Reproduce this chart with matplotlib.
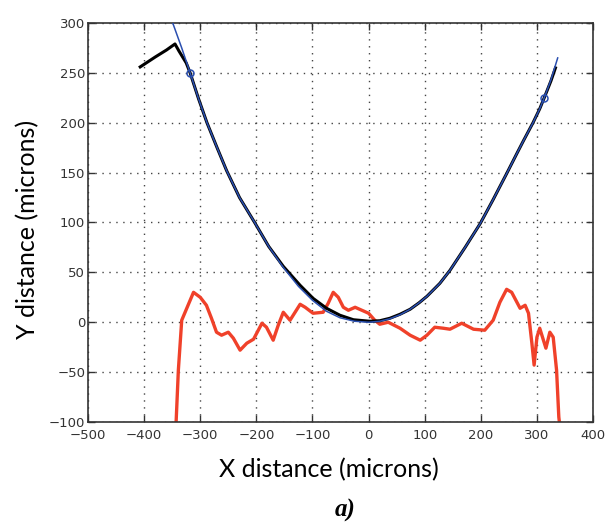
import matplotlib.pyplot as plt
import numpy as np

# Red deviation profile (microns)
red_x = [-343, -339, -333, -327, -312, -300, -289, -280, -271, -262, -250, -241, -229, -217, -205,
         -190, -182, -170, -161, -152, -140, -122, -113, -99, -81, -72, -63, -54, -45, -36, -24,
         -12, 0, 11, 20, 35, 56, 74, 92, 104, 118, 133, 145, 166, 187, 207, 222, 234, 246, 255,
         270, 279, 285, 291, 295, 300, 305, 316, 323, 329, 335, 339, 340]
red_y = [-100, -48, 2, 10, 30, 25, 17, 4, -10, -13, -10, -16, -28, -21, -17,
         -1, -5, -18, -3, 10, 2, 18, 15, 9, 10, 19, 30, 25, 15, 12, 15,
         12, 9, 2, -2, 0, -6, -13, -18, -13, -5, -6, -7, -1, -7, -8, 2, 20, 33, 30,
         14, 17, 9, -21, -43, -15, -6, -26, -10, -15, -48, -95, -100]

# Black measured profile
black_x = [-407, -380, -360, -345, -338, -325, -318, -303, -288, -270, -253, -230, -202, -178,
           -152, -122, -99, -75, -51, -27, 2, 20, 38, 56, 74, 90, 104, 127, 145, 172, 199,
           222, 246, 265, 276, 293, 305, 313, 325, 333]
black_y = [256, 266, 273, 279, 272, 260, 250, 224, 200, 175, 152, 125, 99, 76,
           56, 37, 24, 14, 7, 2.5, 1, 1.5, 4, 8, 13, 19.5, 26, 39, 52, 75, 99,
           123, 149, 170, 182, 200, 214, 225, 242, 255]

# Blue fitted curve
blue_x = [-349, -333, -318, -303, -288, -270, -253, -230, -202, -178, -152, -125, -100, -75, -51,
          -25, 0, 20, 38, 56, 74, 90, 104, 127, 145, 172, 199, 222, 246, 265, 276, 293, 305,
          313, 325, 337]
blue_y = [300, 275, 250, 224, 200, 175, 152, 125, 99, 76, 55, 36, 22, 11, 4.5,
          1, 0, 1, 3.5, 7.5, 13, 19.5, 26, 39, 52, 75, 99, 123, 149, 170, 182, 200, 214,
          225, 243, 265]

# Circle markers on the fit
mark_x = [-318, 313]
mark_y = [250, 225]

x_ticks = [-500, -400, -300, -200, -100, 0, 100, 200, 300, 400]
y_ticks = [-100, -50, 0, 50, 100, 150, 200, 250, 300]

fig = plt.figure(figsize=(6.07, 5.28), dpi=100)
ax = fig.add_axes([0.145, 0.2008, 0.832, 0.7556])

ax.plot(black_x, black_y, color='black', lw=2.2, zorder=3)
ax.plot(blue_x, blue_y, color='#2a4fb0', lw=1.1, zorder=4)
ax.plot(mark_x, mark_y, 'o', mfc='none', mec='#2a4fb0', ms=5, mew=1.1, zorder=5)
ax.plot(red_x, red_y, color='#f0412a', lw=2.4, zorder=2)

ax.set_xlim(-500, 400)
ax.set_ylim(-100, 300)
ax.set_xticks(x_ticks)
ax.set_yticks(y_ticks)
ax.grid(True, color='#444444', linestyle=(0, (1, 4)), lw=1.0)
ax.tick_params(direction='in', top=True, right=True, length=5, width=1,
               colors='#333333', labelsize=9.5)
ax.tick_params(axis='x', pad=5)
ax.tick_params(axis='y', pad=2)
for s in ax.spines.values():
    s.set_color('#333333')
    s.set_linewidth(1.2)

fig.text(0.045, 0.566, 'Y distance (microns)', rotation=90, ha='center', va='center',
         fontsize=18, family='Lato')
fig.text(0.542, 0.11, 'X distance (microns)', ha='center', va='center',
         fontsize=18, family='Lato')
fig.text(0.568, 0.034, 'a)', ha='center', va='center', fontsize=18,
         family='Liberation Serif', fontweight='bold', fontstyle='italic')

fig.savefig('out.png', dpi=100, facecolor='white')
